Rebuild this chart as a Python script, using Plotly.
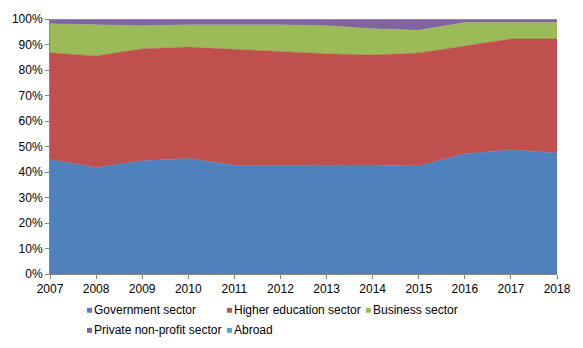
import plotly.graph_objects as go

# Shares of R&D expenditure by source of funds, percent of total
years = [2007, 2008, 2009, 2010, 2011, 2012, 2013, 2014, 2015, 2016, 2017, 2018]
government = [44.9, 41.8, 44.4, 45.3, 42.6, 42.6, 42.6, 42.7, 42.4, 47.2, 48.7, 47.5]
higher_education = [41.9, 43.7, 43.9, 43.7, 45.5, 44.6, 43.8, 43.2, 44.3, 42.2, 43.5, 44.7]
business = [11.3, 12.2, 9.1, 8.7, 9.6, 10.5, 11.0, 10.3, 8.9, 9.2, 6.4, 6.4]
private_non_profit = [1.7, 2.1, 2.4, 2.1, 2.1, 2.1, 2.4, 3.6, 4.2, 1.2, 1.2, 1.2]
abroad = [0.2, 0.2, 0.2, 0.2, 0.2, 0.2, 0.2, 0.2, 0.2, 0.2, 0.2, 0.2]

series_names = ["Government sector", "Higher education sector", "Business sector",
                "Private non-profit sector", "Abroad"]
series_values = [government, higher_education, business, private_non_profit, abroad]
series_colors = ["#4F81BD", "#C0504D", "#9BBB59", "#8064A2", "#4BACC6"]

y_ticks = list(range(0, 101, 10))
y_tick_labels = [f"{v}%" for v in y_ticks]

fig = go.Figure()
for name, vals, col in zip(series_names, series_values, series_colors):
    fig.add_trace(go.Scatter(
        x=years, y=vals, name=name, stackgroup="one",
        mode="lines", line=dict(width=0.5, color=col), fillcolor=col,
        showlegend=False,
    ))

font = dict(family="Liberation Sans, Arial, sans-serif", size=12, color="#000000")

# Legend: small coloured squares with labels, laid out in two rows
# (series index, swatch x in plot fraction, row)
legend_items = [(0, 0.073, 0), (1, 0.349, 0), (2, 0.623, 0),
                (3, 0.073, 1), (4, 0.349, 1)]
row_y = [-0.1423, -0.221]
sw_w, sw_h = 5 / 507, 5 / 260
for idx, sx, row in legend_items:
    cy = row_y[row]
    fig.add_shape(
        type="rect", xref="paper", yref="paper",
        x0=sx, x1=sx + sw_w, y0=cy - sw_h / 2, y1=cy + sw_h / 2,
        fillcolor=series_colors[idx], line=dict(width=0),
    )
    fig.add_annotation(
        xref="paper", yref="paper", x=sx + 0.0125, y=cy,
        xanchor="left", yanchor="middle", showarrow=False,
        text=series_names[idx], font=font, borderpad=0,
    )

fig.update_layout(
    width=583, height=348,
    margin=dict(l=50, r=26, t=14, b=74),
    paper_bgcolor="white", plot_bgcolor="white",
    font=font,
    xaxis=dict(
        range=[2007, 2018], tickmode="array", tickvals=years,
        ticktext=[str(y) for y in years],
        showgrid=False, zeroline=False, showline=True, linecolor="#868686",
        ticks="outside", ticklen=4, tickcolor="#868686", tickfont=font,
    ),
    yaxis=dict(
        range=[0, 100], tickmode="array", tickvals=y_ticks, ticktext=y_tick_labels,
        showgrid=False, zeroline=False, showline=True, linecolor="#868686",
        ticks="outside", ticklen=4, tickcolor="#868686", tickfont=font,
    ),
)

fig.write_html("out.html")
